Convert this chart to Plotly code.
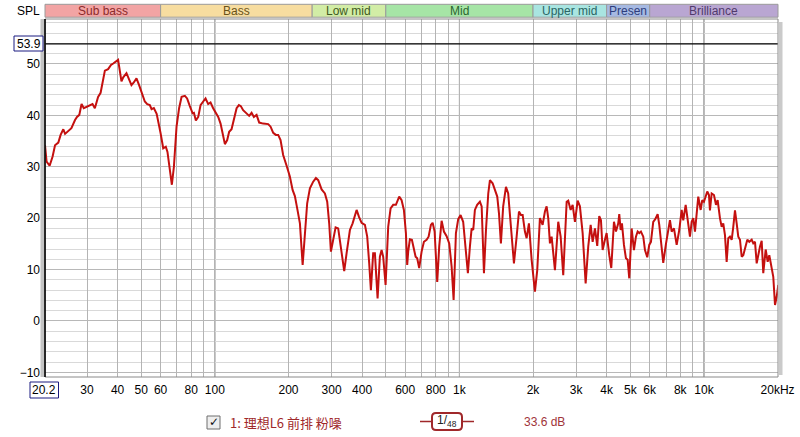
import numpy as np
import plotly.graph_objects as go

# ---------------- data ----------------
freq_hz = [
    20.2, 20.5, 21.1, 21.7, 22.2, 22.9, 23.4, 24.0, 24.4, 25.1, 25.9, 26.8, 27.3, 27.9, 28.5, 29.1,
    29.9, 30.8, 31.6, 32.3, 33.3, 34.1, 35.5, 36.6, 37.6, 38.4, 39.4, 40.2, 41.5, 42.2, 43.5, 44.6,
    45.6, 46.6, 47.8, 49.0, 50.1, 51.7, 52.9, 54.2, 55.1, 56.3, 57.8, 58.6, 60.0, 61.5, 63.0, 64.0,
    65.5, 66.7, 68.0, 69.7, 71.4, 73.1, 75.4, 77.0, 79.0, 81.1, 82.1, 83.6, 85.5, 87.4, 89.6, 91.6,
    93.9, 96.0, 98.4, 101.6, 103.2, 105.5, 107.5, 109.9, 112.3, 114.4, 117.0, 119.6, 122.7, 125.4,
    127.7, 130.5, 134.8, 138.1, 141.3, 144.4, 148.1, 151.8, 157.6, 165.2, 169.0, 173.2, 177.6, 181.5,
    185.6, 190.2, 196.5, 202.6, 207.9, 212.4, 217.1, 222.7, 228.5, 233.4, 238.5, 244.7, 252.4, 258.9,
    264.6, 273.2, 281.8, 288.0, 293.4, 298.2, 304.7, 311.7, 319.4, 326.7, 338.0, 345.7, 356.6, 365.8,
    373.8, 379.8, 388.1, 398.1, 410.7, 419.7, 427.7, 434.5, 444.0, 451.2, 462.8, 472.9, 480.6, 487.8,
    499.0, 511.4, 523.1, 536.1, 549.9, 567.3, 580.2, 592.9, 604.2, 611.6, 617.4, 627.3, 639.3, 651.4,
    662.0, 672.0, 684.8, 700.4, 715.8, 734.2, 748.2, 764.6, 777.0, 791.8, 811.4, 826.8, 845.7, 864.2,
    886.4, 908.4, 929.1, 946.8, 967.6, 988.8, 1011, 1036, 1060, 1083, 1104, 1122, 1139, 1157, 1182,
    1213, 1233, 1260, 1284, 1312, 1333, 1367, 1397, 1428, 1451, 1478, 1510, 1550, 1583, 1624, 1671,
    1714, 1752, 1785, 1814, 1853, 1883, 1924, 1974, 2036, 2081, 2134, 2189, 2237, 2273, 2308, 2345,
    2383, 2458, 2536, 2594, 2658, 2745, 2786, 2850, 2904, 2968, 3044, 3110, 3191, 3282, 3364, 3441,
    3506, 3583, 3661, 3731, 3791, 3852, 3936, 3999, 4100, 4178, 4285, 4367, 4462, 4505, 4564, 4620,
    4708, 4797, 4875, 4949, 5062, 5172, 5271, 5356, 5437, 5525, 5647, 5738, 5863, 5974, 6070, 6203,
    6321, 6466, 6565, 6670, 6816, 6992, 7145, 7260, 7378, 7539, 7734, 7925, 8106, 8230, 8418, 8579,
    8765, 8907, 9042, 9189, 9336, 9478, 9694, 9840, 10000, 10162, 10316, 10481, 10580, 10752, 10988,
    11197, 11376, 11625, 11814, 11993, 12187, 12383, 12573, 12774, 12982, 13178, 13392, 13607, 13815,
    14037, 14265, 14481, 14717, 15039, 15325, 15675, 15912, 16170, 16430, 16681, 16949, 17219, 17480,
    17880, 18220, 18499, 18922, 19208, 19520, 19834, 20137,
]
spl_db = [
    34.2, 31.0, 30.2, 32.0, 34.2, 34.7, 36.2, 37.3, 36.4, 37.0, 37.5, 39.1, 39.7, 40.1, 42.2, 41.4,
    41.7, 42.0, 42.2, 41.4, 43.6, 44.4, 48.7, 49.0, 49.8, 50.1, 50.4, 50.8, 46.6, 47.4, 48.2, 46.9,
    45.9, 46.4, 47.2, 45.9, 44.4, 42.7, 42.2, 42.0, 41.2, 41.4, 40.3, 39.1, 36.5, 33.6, 33.9, 32.9,
    29.7, 26.5, 30.0, 37.8, 41.4, 43.6, 43.8, 43.3, 41.8, 40.4, 40.5, 39.0, 39.7, 42.0, 42.7, 43.3,
    42.2, 42.5, 41.4, 40.1, 39.7, 38.4, 36.5, 34.4, 35.2, 36.8, 37.3, 39.1, 41.4, 42.0,
    41.8, 41.0, 40.3, 39.9, 40.5, 39.7, 40.1, 38.6, 38.4, 38.3, 37.8, 36.6, 36.2, 36.2,
    35.2, 32.3, 30.2, 28.1, 25.5, 24.3, 21.9, 19.0, 10.9, 17.1, 22.9, 25.8, 27.1, 27.8,
    27.4, 25.6, 24.8, 23.2, 19.0, 13.5, 15.8, 18.2, 18.0, 14.5, 9.7, 13.2, 17.7, 19.0,
    20.3, 21.6, 20.3, 19.1, 18.7, 16.4, 11.2, 6.0, 13.2, 13.2, 4.4, 12.5, 13.8, 12.5,
    7.0, 18.3, 21.9, 22.6, 22.6, 24.2, 23.5, 21.6, 17.1, 10.9, 13.5, 15.9, 15.8, 13.9,
    12.5, 12.2, 10.3, 13.5, 15.4, 15.8, 16.4, 18.7, 19.1, 17.4, 7.6, 14.5, 19.5, 17.4,
    16.5, 15.1, 10.6, 4.1, 17.1, 19.8, 20.6, 19.3, 13.2, 9.3, 14.5, 18.0, 17.7, 21.6, 22.6,
    23.2, 22.3, 9.3, 17.7, 24.8, 27.4, 26.8, 25.5, 24.2, 21.0, 15.1, 22.3, 26.1, 24.8, 18.3, 11.2,
    16.4, 21.3, 20.6, 20.6, 17.4, 16.1, 19.0, 11.9, 5.7, 9.9, 20.0, 18.7, 21.3, 22.3, 20.0, 15.1,
    16.4, 9.9, 19.3, 16.4, 8.9, 23.2, 23.4, 21.6, 22.6, 19.3, 23.4, 22.3, 17.1, 7.3, 14.5, 18.7,
    15.4, 18.0, 14.6, 20.4, 19.6, 13.8, 15.8, 17.1, 12.8, 10.3, 19.3, 17.4, 19.0, 20.8, 17.7, 19.0,
    14.8, 12.2, 11.9, 8.3, 18.0, 13.8, 16.4, 17.4, 17.1, 17.4, 16.4, 13.8, 12.4, 14.8, 15.4, 19.3,
    19.8, 20.8, 18.7, 15.4, 11.3, 15.0, 17.7, 19.6, 17.4, 18.0, 14.8, 17.7, 21.6, 19.6, 22.6, 19.6,
    16.4, 19.3, 20.0, 17.4, 21.0, 24.2, 21.6, 23.5, 23.2, 24.2, 25.2, 24.5, 21.5, 24.8, 24.5,
    22.6, 23.5, 20.0, 18.3, 19.0, 16.7, 11.5, 16.1, 16.4, 15.8, 18.3, 21.5, 19.0, 16.4,
    15.8, 12.5, 12.8, 13.9, 15.8, 15.4, 15.8, 15.1, 15.4, 11.2, 13.2, 14.5, 15.6, 9.3,
    13.9, 11.5, 12.8, 10.6, 8.6, 3.1, 4.7, 7.0,
]

x_min_hz = 20.2
x_max_hz = 20080
y_min_db = -10.9
y_max_db = 58.75
marker_db = 53.9

y_tick_vals = [-10, 0, 10, 20, 30, 40, 50]
x_grid_vals = [30, 40, 50, 60, 70, 80, 90, 100, 200, 300, 400, 500, 600, 700, 800, 900,
               1000, 2000, 3000, 4000, 5000, 6000, 7000, 8000, 9000, 10000, 20000]
x_tick_labels = {30: "30", 40: "40", 50: "50", 60: "60", 80: "80", 100: "100", 200: "200",
                 300: "300", 400: "400", 600: "600", 800: "800", 1000: "1k", 2000: "2k",
                 3000: "3k", 4000: "4k", 5000: "5k", 6000: "6k", 8000: "8k", 10000: "10k",
                 20000: "20kHz"}
x_major_vals = [100, 1000, 10000]

band_names = ["Sub bass", "Bass", "Low mid", "Mid", "Upper mid", "Presen", "Brilliance"]
band_edges = [20.2, 60, 250, 500, 2000, 4000, 6000, 20080]
band_fill = ["#f2a4a4", "#f7dda0", "#d2eda6", "#a6e5a6", "#a9e5e1", "#a6b9e2", "#b9a6d2"]
band_text = ["#8c2a2a", "#6a5218", "#3f5a22", "#2b6630", "#2a6664", "#2e3d7c", "#503a6c"]

legend_label = "1: 理想L6 前排 粉噪"
smoothing_label = "1/<sub>48</sub>"
level_label = "33.6 dB"

# ---------------- figure ----------------
W, H = 800, 437
L, R, T, B = 45, 22, 19, 60
PW, PH = W - L - R, H - T - B

lmin, lmax = np.log10(x_min_hz), np.log10(x_max_hz)


def xfrac(f):
    return (np.log10(f) - lmin) / (lmax - lmin)


def px(xp):
    return (xp - L) / PW


def py(yp):
    return (H - B - yp) / PH


FONT = "Liberation Sans, Arial, sans-serif"
CJK = "Noto Sans CJK SC, Liberation Sans, sans-serif"
curve_color = "#c4100f"

fig = go.Figure()
fig.add_trace(go.Scatter(x=freq_hz, y=spl_db, mode="lines",
                         line=dict(color=curve_color, width=2), hoverinfo="skip",
                         showlegend=False))

shapes = []
for f in x_major_vals:
    shapes.append(dict(type="line", xref="paper", yref="paper", x0=xfrac(f), x1=xfrac(f),
                       y0=0, y1=1, line=dict(color="#6a6a6a", width=1), layer="below"))
shapes.append(dict(type="line", xref="paper", yref="y", x0=0, x1=1, y0=marker_db, y1=marker_db,
                   line=dict(color="#000000", width=1.2)))
shapes.append(dict(type="rect", xref="paper", yref="paper", x0=0, x1=1, y0=0, y1=1,
                   line=dict(color="#8a8a8a", width=1)))
shapes.append(dict(type="rect", xref="paper", yref="paper", x0=px(40.5), x1=px(44), y0=0, y1=1,
                   fillcolor="#c4c4c4", line=dict(width=0)))
shapes.append(dict(type="rect", xref="paper", yref="paper", x0=px(779), x1=px(782.5),
                   y0=py(375), y1=py(22), fillcolor="#cacaca", line=dict(width=0)))
shapes.append(dict(type="line", xref="paper", yref="paper", x0=0, x1=0, y0=0, y1=1,
                   line=dict(color="#000000", width=1.6)))

annotations = []


def label(xp, yp, text, size=12, color="#000", family=FONT, xanchor="center"):
    annotations.append(dict(xref="paper", yref="paper", x=px(xp), y=py(yp), text=text,
                            showarrow=False, xanchor=xanchor, yanchor="middle",
                            font=dict(family=family, size=size, color=color)))


by0, by1 = py(17.2), py(4.3)
for name, a, b, fc, tc in zip(band_names, band_edges[:-1], band_edges[1:], band_fill, band_text):
    x0, x1 = max(0.0, xfrac(a)), min(1.0, xfrac(b))
    shapes.append(dict(type="rect", xref="paper", yref="paper", x0=x0, x1=x1, y0=by0, y1=by1,
                       fillcolor=fc, line=dict(color="#9a9a9a", width=1)))
    annotations.append(dict(xref="paper", yref="paper", x=(x0 + x1) / 2, y=(by0 + by1) / 2,
                            text=name, showarrow=False, xanchor="center", yanchor="middle",
                            font=dict(family=FONT, size=12, color=tc)))

label(28, 10.5, "SPL")
shapes.append(dict(type="rect", xref="paper", yref="paper", x0=px(14), x1=px(43), y0=py(51),
                   y1=py(36), fillcolor="#ffffff", line=dict(color="#1a1a80", width=1)))
label(28.5, 43.5, str(marker_db))
shapes.append(dict(type="rect", xref="paper", yref="paper", x0=px(30), x1=px(58.5), y0=py(398),
                   y1=py(382), fillcolor="#ffffff", line=dict(color="#1a1a80", width=1)))
label(44.3, 390, str(x_min_hz))

shapes.append(dict(type="rect", xref="paper", yref="paper", x0=px(207), x1=px(220), y0=py(429),
                   y1=py(416), fillcolor="#eeeeee", line=dict(color="#6f6f6f", width=1)))
label(213.5, 422, "<b>✓</b>", size=12, color="#111", family="DejaVu Sans")
label(228, 422, legend_label, size=13, color="#a0282a", family=CJK, xanchor="left")
shapes.append(dict(type="line", xref="paper", yref="paper", x0=px(420), x1=px(474), y0=py(421.5),
                   y1=py(421.5), line=dict(color="#a0282a", width=1.5)))
xa, xb, ya, yb, r = px(432), px(462), py(430), py(413), 4
rx, ry = r / PW, r / PH
path = (f"M {xa+rx},{ya} L {xb-rx},{ya} Q {xb},{ya} {xb},{ya+ry} L {xb},{yb-ry} "
        f"Q {xb},{yb} {xb-rx},{yb} L {xa+rx},{yb} Q {xa},{yb} {xa},{yb-ry} "
        f"L {xa},{ya+ry} Q {xa},{ya} {xa+rx},{ya} Z")
shapes.append(dict(type="path", xref="paper", yref="paper", path=path, fillcolor="#ffffff",
                   line=dict(color="#a0282a", width=2)))
label(447, 421, smoothing_label, size=12, color="#222")
label(522, 421.5, level_label, size=12, color="#a0343a", xanchor="left")

fig.update_layout(
    template="none",
    width=W, height=H,
    margin=dict(l=L, r=R, t=T, b=B, pad=0, autoexpand=False),
    paper_bgcolor="#ffffff", plot_bgcolor="#ffffff",
    showlegend=False,
    shapes=shapes, annotations=annotations,
    xaxis=dict(type="log", range=[lmin, lmax], tickvals=x_grid_vals,
               ticktext=[x_tick_labels.get(v, "") for v in x_grid_vals],
               showgrid=True, gridcolor="#b4b4b4", gridwidth=1, zeroline=False,
               ticks="", showline=False, ticklabelstandoff=4, automargin=False,
               tickfont=dict(family=FONT, size=12, color="#000")),
    yaxis=dict(range=[y_min_db, y_max_db], tickvals=y_tick_vals,
               showgrid=True, gridcolor="#b8b8b8", gridwidth=1, zeroline=False,
               ticks="", showline=False, ticklabelstandoff=4, automargin=False,
               tickfont=dict(family=FONT, size=12, color="#000"),
               minor=dict(dtick=2, tick0=0, showgrid=True, gridcolor="#d9d9d9", ticks="")),
)

fig.write_html("out.html", config={"displayModeBar": False},
               post_script="document.body.style.margin='0';document.body.style.overflow='hidden';")
